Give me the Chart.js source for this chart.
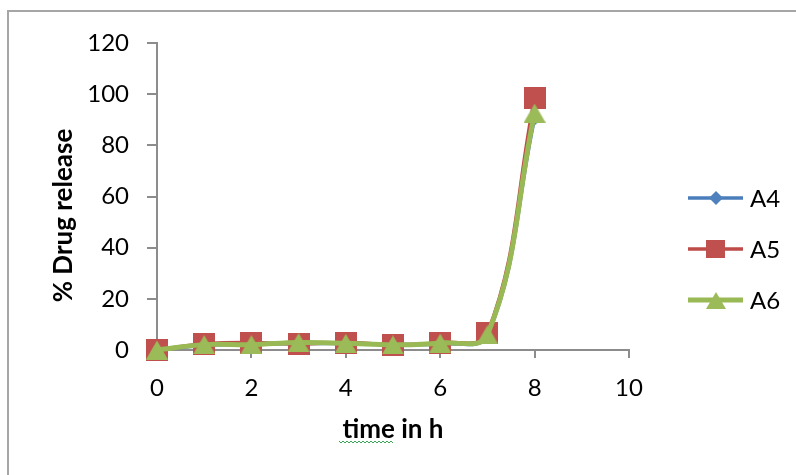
<!DOCTYPE html>
<html>
<head>
<meta charset="utf-8">
<script src="https://cdn.jsdelivr.net/npm/chart.js@4/dist/chart.umd.min.js"></script>
<style>
  html, body { margin: 0; padding: 0; background: #ffffff; }
  #wrap { position: relative; width: 796px; height: 475px; overflow: hidden; }
  #frame { position: absolute; left: 7px; top: 10px; width: 820px; height: 500px;
           border-left: 2px solid #a6a6a6; border-top: 2px solid #a6a6a6; }
  #c { position: absolute; left: 0; top: 0; }
</style>
</head>
<body>
<div id="wrap">
  <div id="frame"></div>
  <canvas id="c" width="796" height="475"></canvas>
</div>
<script>
// Sampling times (h)
const hours = [0, 1, 2, 3, 4, 5, 6, 7, 8];

// Cumulative drug release (%) per formulation
const releaseA4 = [0, 1.8, 2.2, 2.5, 2.5, 2.2, 2.4, 5.5, 90.5];
const releaseA5 = [0, 2.4, 2.9, 2.3, 2.9, 2.1, 2.9, 6.5, 98.4];
const releaseA6 = [0, 2.1, 2.1, 2.9, 2.6, 2.0, 2.7, 5.9, 92.6];

const seriesNames = ['A4', 'A5', 'A6'];

// Axis ranges and tick steps
const xRange = [0, 10];
const xStep = 2;
const yRange = [0, 120];
const yStep = 20;

const xTitle = 'time in h';
const yTitle = '% Drug release';

const FONT = 'Lato, "Open Sans", "DejaVu Sans", sans-serif';

// Build a marker bitmap (centred on its bounding box)
function marker(shape, color, w, h) {
  const c = document.createElement('canvas');
  c.width = w; c.height = h;
  const g = c.getContext('2d');
  g.fillStyle = color;
  g.beginPath();
  if (shape === 'square') {
    g.rect(0, 0, w, h);
  } else if (shape === 'diamond') {
    g.moveTo(w / 2, 0); g.lineTo(w, h / 2); g.lineTo(w / 2, h); g.lineTo(0, h / 2);
  } else {
    g.moveTo(w / 2, 0); g.lineTo(w, h); g.lineTo(0, h);
  }
  g.closePath();
  g.fill();
  return c;
}

const styles = [
  { line: '#4A7EBB', fill: '#4F81BD', width: 3.5, mk: marker('diamond', '#4F81BD', 14, 14), lg: marker('diamond', '#4F81BD', 14, 14) },
  { line: '#BE4B48', fill: '#C0504D', width: 3.5, mk: marker('square', '#C0504D', 22, 22), lg: marker('square', '#C0504D', 19, 18) },
  { line: '#98B954', fill: '#9BBB59', width: 5,   mk: marker('triangle', '#9BBB59', 22, 19), lg: marker('triangle', '#9BBB59', 20, 17) }
];

const seriesValues = [releaseA4, releaseA5, releaseA6];

const datasets = seriesValues.map((vals, i) => ({
  label: seriesNames[i],
  data: hours.map((h, k) => ({ x: h, y: vals[k] })),
  borderColor: styles[i].line,
  backgroundColor: styles[i].fill,
  borderWidth: styles[i].width,
  tension: 0.4,
  pointStyle: styles[i].mk,
  pointRadius: 11,
  pointHoverRadius: 11,
  legendMarker: styles[i].lg,
  clip: false,
  order: seriesValues.length - i
}));

// Legend with a line segment and marker per series
const lineLegend = {
  id: 'lineLegend',
  afterDraw(chart, args, o) {
    const ctx = chart.ctx;
    ctx.save();
    ctx.font = o.font;
    ctx.textBaseline = 'middle';
    ctx.textAlign = 'left';
    ctx.fillStyle = '#000000';
    chart.data.datasets.forEach((ds, i) => {
      const y = o.top + i * o.spacing;
      ctx.strokeStyle = ds.borderColor;
      ctx.lineWidth = ds.borderWidth;
      ctx.beginPath();
      ctx.moveTo(o.x0, y);
      ctx.lineTo(o.x0 + o.len, y);
      ctx.stroke();
      const img = ds.legendMarker;
      ctx.drawImage(img, Math.round(o.x0 + o.len / 2 - img.width / 2), Math.round(y - img.height / 2));
      ctx.fillText(ds.label, o.textX, y + 1);
    });
    ctx.restore();
  }
};

// Wavy proofing underline under the first word of the x title
const squiggle = {
  id: 'squiggle',
  afterDraw(chart, args, o) {
    const ctx = chart.ctx;
    ctx.save();
    ctx.strokeStyle = o.color;
    ctx.lineWidth = 1;
    ctx.beginPath();
    for (let x = o.x1, k = 0; x <= o.x2; x += 2, k++) {
      const y = o.y + (k % 2 ? 1 : -1);
      if (k === 0) ctx.moveTo(x, y); else ctx.lineTo(x, y);
    }
    ctx.stroke();
    ctx.restore();
  }
};

new Chart(document.getElementById('c'), {
  type: 'line',
  data: { datasets },
  plugins: [lineLegend, squiggle],
  options: {
    responsive: false,
    animation: false,
    devicePixelRatio: 1,
    layout: { padding: { left: 0, top: 43, right: 167, bottom: 0 } },
    plugins: {
      legend: { display: false },
      tooltip: { enabled: false },
      lineLegend: { font: '24px ' + FONT, x0: 688, len: 55, textX: 750, top: 198, spacing: 51 },
      squiggle: { x1: 339, x2: 393, y: 442, color: '#3aa655' }
    },
    scales: {
      x: {
        type: 'linear',
        min: xRange[0], max: xRange[1],
        afterFit(s) { s.height = 125; },
        ticks: { stepSize: xStep, color: '#000', padding: 16, font: { family: FONT, size: 24 } },
        grid: { drawOnChartArea: false, drawTicks: true, tickLength: 8, color: '#8c8c8c', lineWidth: 2 },
        border: { color: '#8c8c8c', width: 2 },
        title: { display: true, text: xTitle, color: '#000',
                 font: { family: FONT, size: 26, weight: 'bold', lineHeight: 1.2 },
                 padding: { top: 0, bottom: 30 } }
      },
      y: {
        type: 'linear',
        min: yRange[0], max: yRange[1],
        afterFit(s) { s.width = 157; },
        ticks: { stepSize: yStep, color: '#000', padding: 18, font: { family: FONT, size: 24 } },
        grid: { drawOnChartArea: false, drawTicks: true, tickLength: 10, color: '#8c8c8c', lineWidth: 2 },
        border: { color: '#8c8c8c', width: 2 },
        title: { display: true, text: yTitle + '      ', color: '#000',
                 font: { family: FONT, size: 26, weight: 'bold', lineHeight: 1.2 },
                 padding: { top: 48, bottom: 0 } }
      }
    }
  }
});
</script>
</body>
</html>
